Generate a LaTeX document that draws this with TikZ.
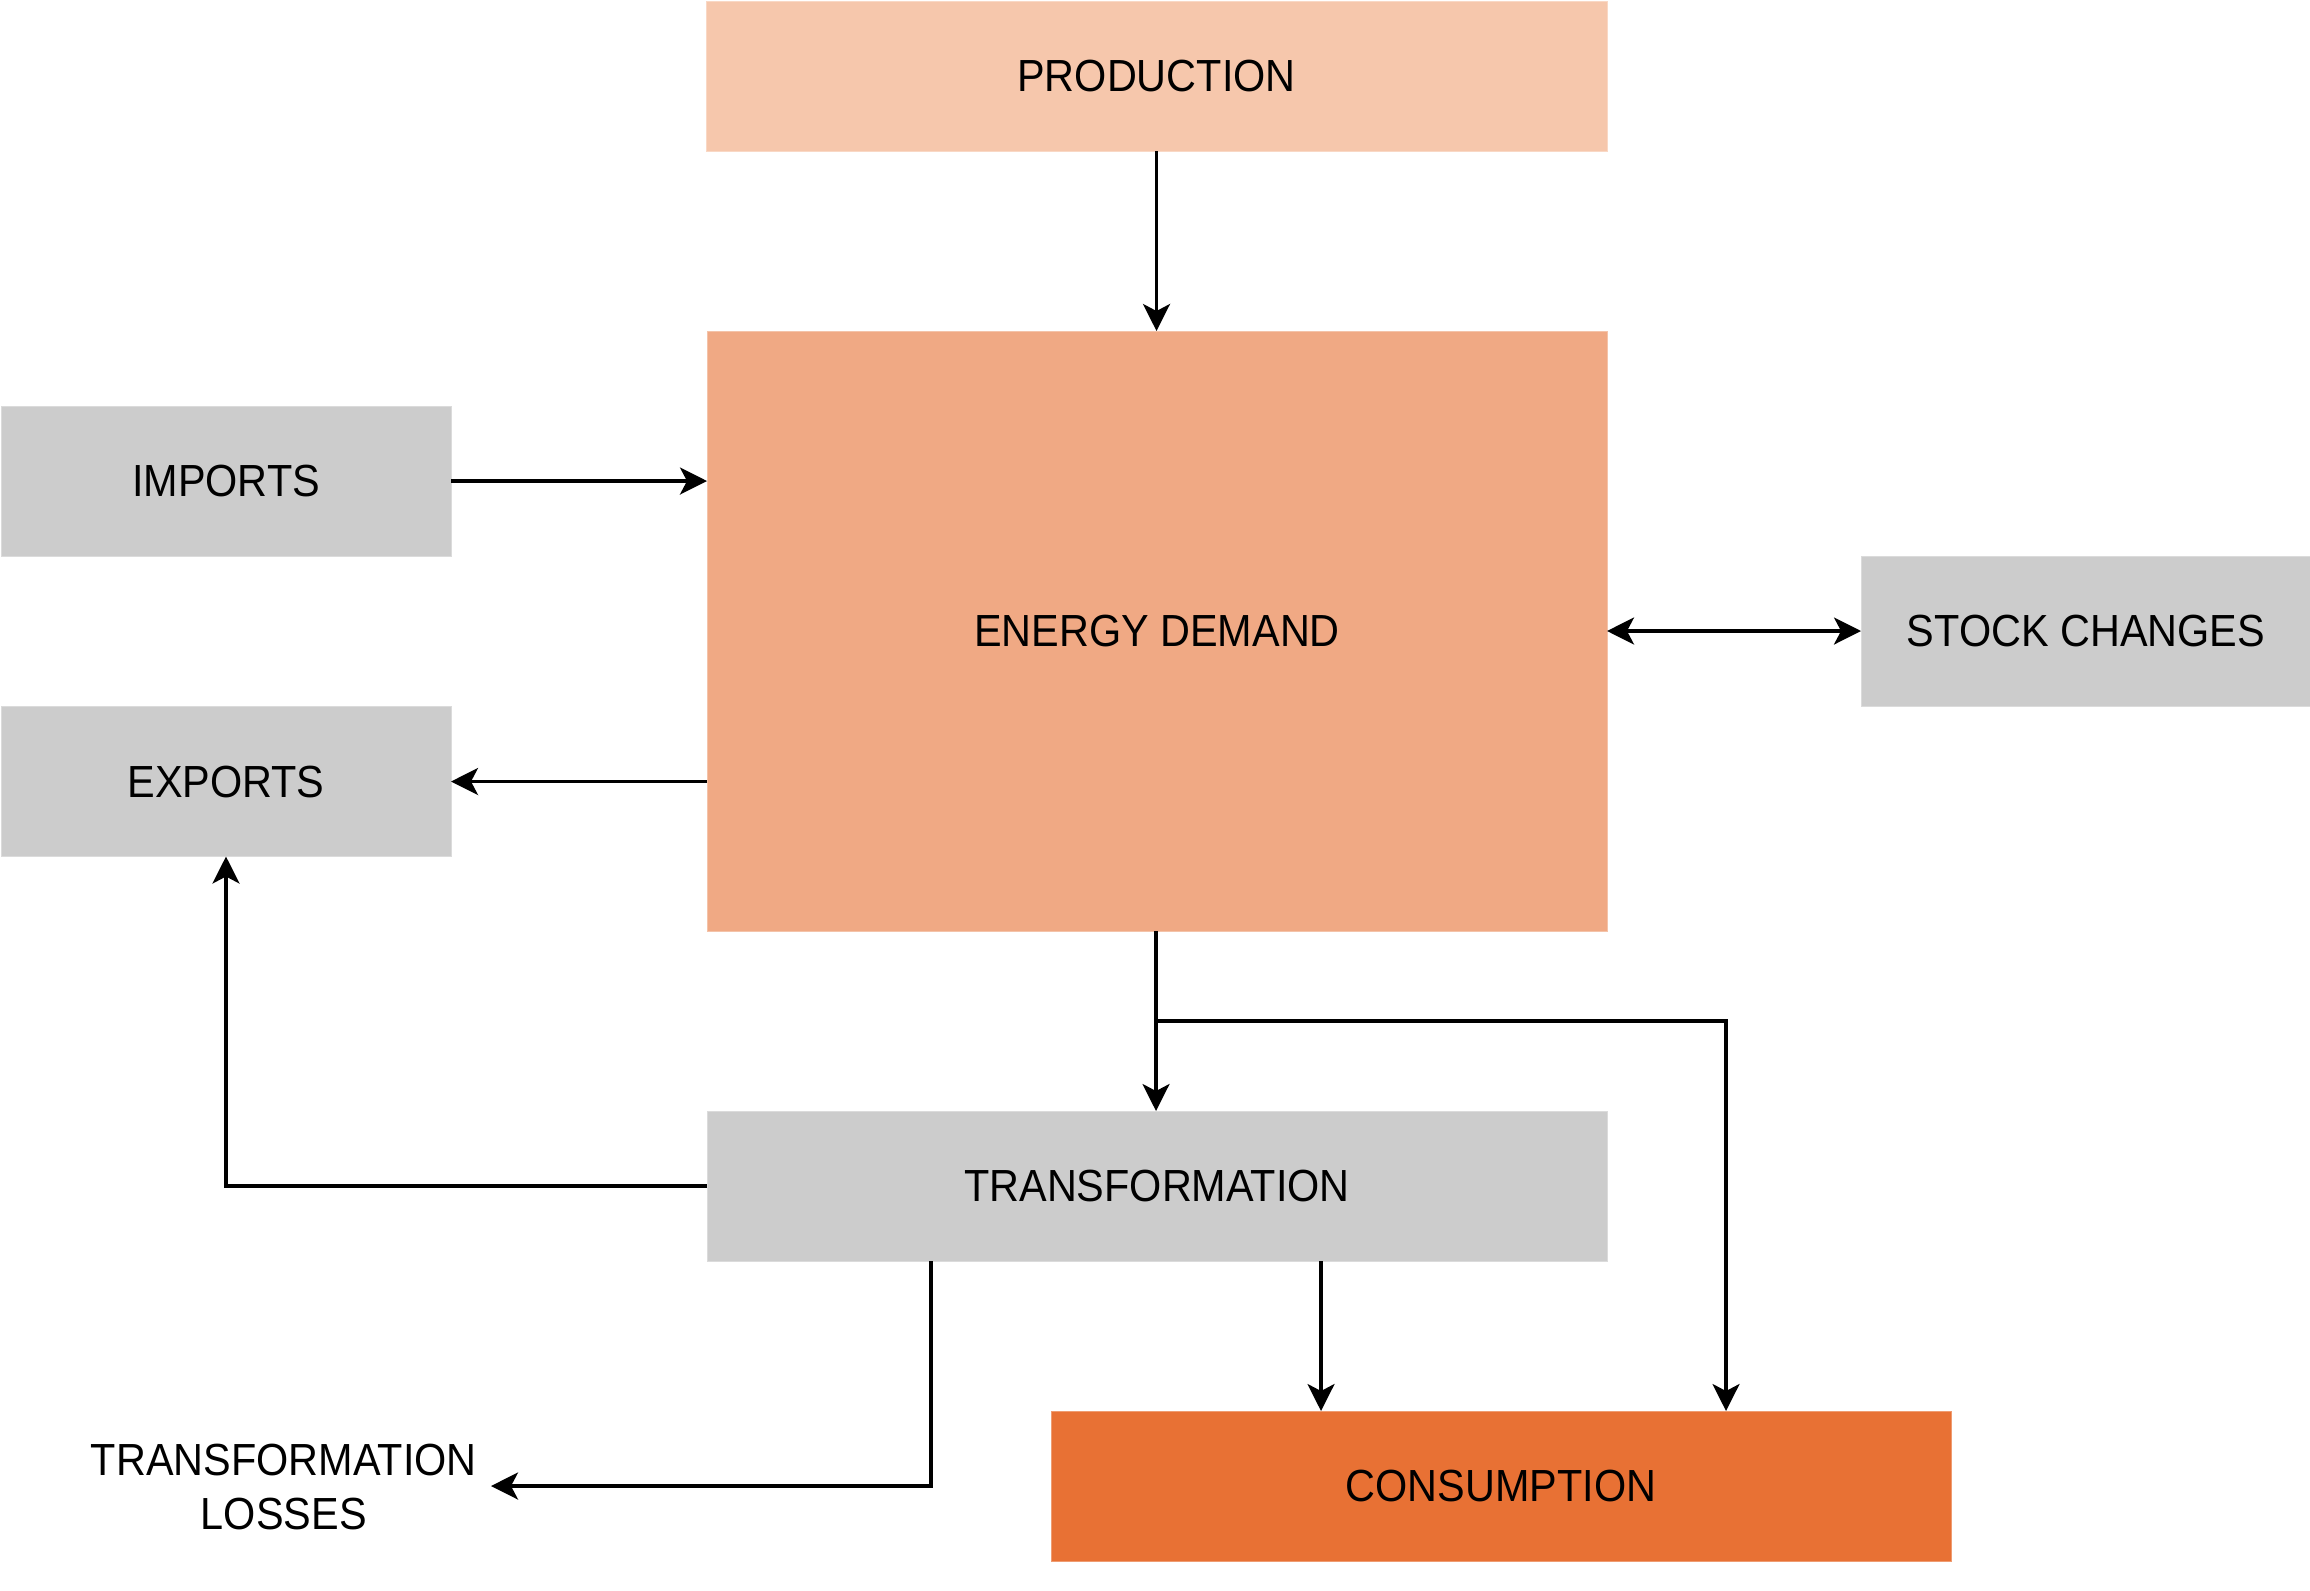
\documentclass[tikz,border=0pt]{standalone}
\usepackage{fontspec}
\setmainfont[FakeStretch=0.92]{Liberation Sans}
\usetikzlibrary{arrows.meta,calc}
\definecolor{prodc}{RGB}{246,199,172}
\definecolor{edc}{RGB}{240,169,132}
\definecolor{consc}{RGB}{232,113,52}
\definecolor{grayc}{RGB}{204,204,204}
\tikzset{myarr/.tip={Stealth[length=13.5pt,width=13.5pt,inset=3.5pt]}}
\begin{document}
\begin{tikzpicture}[x=0.5pt,y=-0.5pt,
  box/.style={rectangle, inner sep=0pt, outer sep=0pt, minimum height=75pt, minimum width=450pt,
    font=\fontsize{22.5pt}{27pt}\selectfont, text=black},
  graybox/.style={box, minimum width=225pt, fill=grayc, draw=grayc!70!white, line width=0.5pt},
  conn/.style={line width=1.7pt, draw=black, -{myarr}},
  plain/.style={line width=1.7pt, draw=black}]
\useasboundingbox (0,0) rectangle (2310,1590);
\fill[white] (0,0) rectangle (2310,1590);
\node[box, fill=prodc, draw=prodc!70!white, line width=0.5pt, minimum width=450.5pt] (prod) at (1156.5,76) {PRODUCTION};
\node[box, fill=edc, draw=edc!70!white, line width=0.5pt, minimum height=300pt] (ed) at (1157,631) {ENERGY DEMAND};
\node[graybox] (imports) at (226,481) {IMPORTS};
\node[graybox] (exports) at (226,781.5) {EXPORTS};
\node[graybox] (stock) at (2086,631) {STOCK CHANGES};
\node[graybox, minimum width=450pt] (trans) at (1157,1186) {TRANSFORMATION};
\node[box, fill=consc, draw=consc!70!white, line width=0.5pt] (cons) at (1501,1486) {CONSUMPTION};
\node[font=\fontsize{22.5pt}{27pt}\selectfont, align=center, inner sep=0pt, anchor=east] (losses) at (477,1487) {TRANSFORMATION\\LOSSES};
\coordinate (junc) at (1156,1021);
\coordinate (trdrop) at (931,1261);
\coordinate (trcons) at (1321,1261);
\coordinate (lossend) at (491,1486);

\draw[conn] (prod.south) -- (prod.south |- ed.north);
\draw[conn] (imports.east) -- (imports.east -| ed.west);
\draw[conn] (ed.west |- exports.east) -- (exports.east);
\draw[conn, {myarr}-{myarr}] (ed.east) -- (stock.west);
\draw[conn] (ed.south -| junc) -- (trans.north -| junc);
\draw[conn] (junc) -| (cons.north -| 1726,0);
\draw[conn] (trcons) -- (trcons |- cons.north);
\draw[conn] (trans.west) -| (exports.south);
\draw[conn] (trdrop) |- (lossend);
\end{tikzpicture}
\end{document}
